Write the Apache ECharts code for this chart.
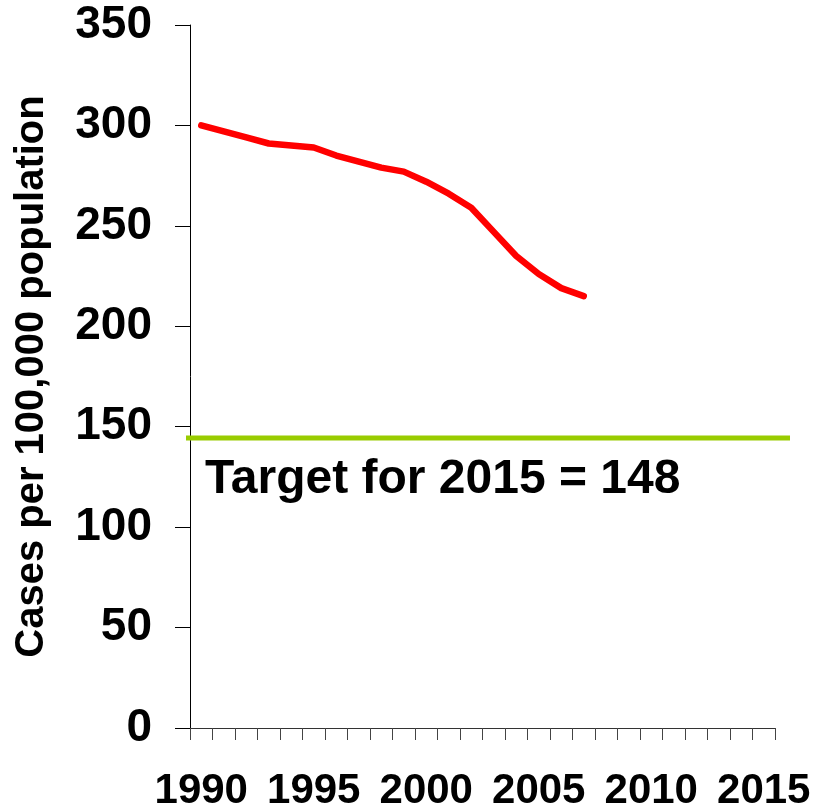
<!DOCTYPE html>
<html>
<head>
<meta charset="utf-8">
<script src="https://cdn.jsdelivr.net/npm/echarts@6/dist/echarts.min.js"></script>
<style>
  html, body { margin: 0; padding: 0; background: #fff; }
  #main { width: 815px; height: 812px; }
</style>
</head>
<body>
<div id="main"></div>
<script>
// years on the x axis (1990 - 2015)
var years = [];
for (var y = 1990; y <= 2015; y++) years.push(String(y));

// cases per 100,000 population, 1990 - 2007
var cases = [300, 297, 294, 291, 290, 289, 285, 282, 279, 277, 272, 266, 259, 247, 235, 226, 219, 215];

// target line (as drawn)
var targetValue = 145;
var targetText = 'Target for 2015 = 148';

var yTicks = { min: 0, max: 350, interval: 50 };

var font = '"Liberation Sans", Arial, Helvetica, sans-serif';

var myChart = echarts.init(document.getElementById('main'));
var option = {
    backgroundColor: '#fff',
    animation: false,
    grid: [
        { left: 190, right: 40, top: 25, bottom: 82 },
        // wider grid only for the target line, it runs past the axis end
        { left: 186, right: 25, top: 25, bottom: 82 }
    ],
    xAxis: [{
        type: 'category',
        data: years,
        boundaryGap: true,
        axisLine: { lineStyle: { color: '#333', width: 1 } },
        axisTick: { show: true, interval: 0, length: 12, lineStyle: { color: '#444' } },
        axisLabel: {
            interval: 4,
            margin: 42,
            color: '#000',
            fontSize: 42,
            fontWeight: 'bold',
            fontFamily: font
        },
        splitLine: { show: false }
    }, {
        gridIndex: 1,
        type: 'value',
        min: 0,
        max: 1,
        show: false
    }],
    yAxis: [{
        type: 'value',
        min: yTicks.min,
        max: yTicks.max,
        interval: yTicks.interval,
        name: 'Cases per 100,000 population',
        nameLocation: 'middle',
        nameGap: 138,
        nameTextStyle: {
            color: '#000',
            fontSize: 40,
            fontWeight: 'bold',
            fontFamily: font
        },
        axisLine: { show: true, lineStyle: { color: '#000', width: 1 } },
        axisTick: { show: true, length: 15, lineStyle: { color: '#000' } },
        axisLabel: {
            margin: 38,
            color: '#000',
            fontSize: 46,
            fontWeight: 'bold',
            fontFamily: font
        },
        splitLine: { show: false }
    }, {
        gridIndex: 1,
        type: 'value',
        min: yTicks.min,
        max: yTicks.max,
        show: false
    }],
    series: [{
        name: 'Cases',
        type: 'line',
        data: cases,
        symbol: 'none',
        smooth: false,
        lineStyle: { color: '#ff0000', width: 6.5, cap: 'round', join: 'round' },
        z: 5
    }, {
        name: 'Target',
        type: 'line',
        xAxisIndex: 1,
        yAxisIndex: 1,
        data: [[0, targetValue], [1, targetValue]],
        symbol: 'none',
        lineStyle: { color: '#99cc00', width: 5 },
        z: 4
    }],
    graphic: [{
        type: 'text',
        left: 205,
        top: 456,
        style: {
            text: targetText,
            fill: '#000',
            font: 'bold 48px ' + font
        }
    }]
};
myChart.setOption(option);
</script>
</body>
</html>
